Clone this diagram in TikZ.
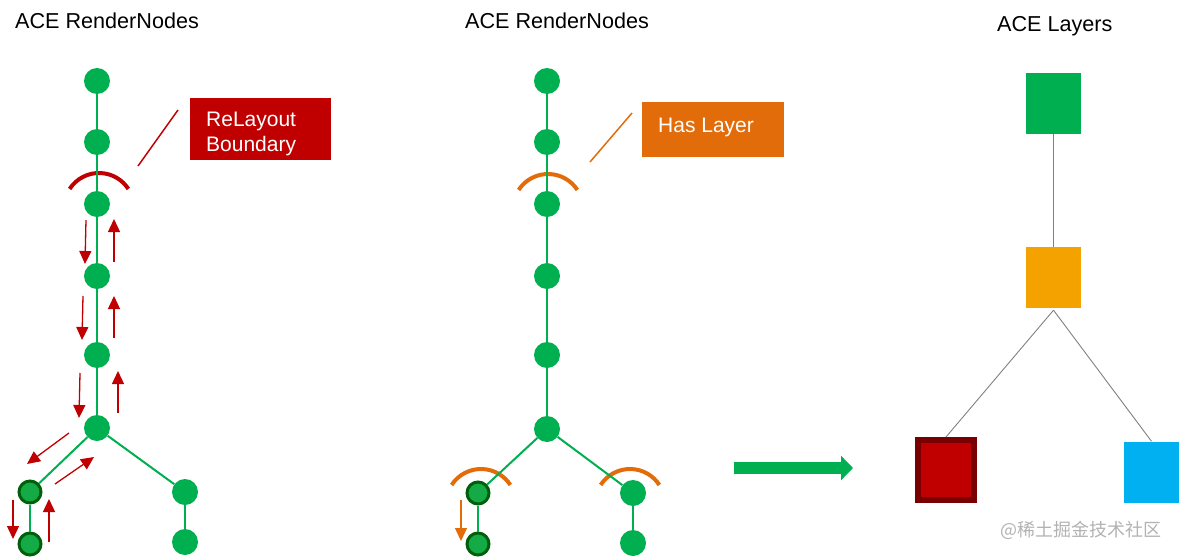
\documentclass[tikz,border=0pt]{standalone}
\usepackage{fontspec}
\setmainfont{Liberation Sans}
\newfontfamily\cjkfont{Noto Sans CJK SC}
\usetikzlibrary{arrows.meta}
\definecolor{ngreen}{RGB}{0,176,80}
\definecolor{dgreen}{RGB}{0,95,10}
\definecolor{lgreen}{RGB}{20,170,70}
\definecolor{nred}{RGB}{192,0,0}
\definecolor{dred}{RGB}{120,0,0}
\definecolor{norange}{RGB}{226,108,10}
\definecolor{lorange}{RGB}{243,162,0}
\definecolor{lblue}{RGB}{0,176,240}
\tikzset{
  rnode/.style={circle,fill=ngreen,minimum size=26pt,inner sep=0pt},
  lnode/.style={circle,fill=lgreen,draw=dgreen,line width=3pt,minimum size=22pt,inner sep=0pt},
  edge/.style={ngreen,line width=2pt},
  redarc/.style={nred,line width=4pt},
  orarc/.style={norange,line width=4pt},
  flow/.style={nred,line width=1.3pt,-{Triangle[length=13pt,width=12pt]}},
  oflow/.style={norange,line width=1.3pt,-{Triangle[length=13pt,width=12pt]}},
  title/.style={font=\fontsize{21.6}{24}\selectfont,inner sep=0pt,anchor=west},
  tag/.style={font=\fontsize{21}{25}\selectfont,text=white,align=left,anchor=north west,inner sep=0pt,text depth=0pt},
  layerbox/.style={minimum width=55pt,minimum height=61pt,inner sep=0pt},
  conn/.style={draw=gray,line width=0.9pt},
}
\begin{document}
\begin{tikzpicture}[x=1pt,y=-1pt]
\useasboundingbox (0,0) rectangle (1179,557);
% titles
\node[title] (t1) at (15,21) {ACE RenderNodes};
\node[title] (t2) at (465,21) {ACE RenderNodes};
\node[title] (t3) at (997,26) {ACE Layers};

% ---------- left tree ----------
\draw[redarc] ([shift={(213:35)}]99,208) arc (213:327:35);
\foreach \n/\y in {1/81,2/142,3/204,4/276,5/355,6/428} {\node[rnode] (a\n) at (97,\y) {};}
\node[lnode] (aL1) at (30,492) {};
\node[lnode] (aL2) at (30,544) {};
\node[rnode] (aR1) at (185,492) {};
\node[rnode] (aR2) at (185,542) {};
\draw[edge] (a1) -- (a2);
\draw[edge] (a2) -- (a3);
\draw[edge] (a3) -- (a4);
\draw[edge] (a4) -- (a5);
\draw[edge] (a5) -- (a6);
\draw[edge] (a6) -- (aL1);
\draw[edge] (a6) -- (aR1);
\draw[edge] (aL1) -- (aL2);
\draw[edge] (aR1) -- (aR2);
% tag
\node[fill=nred,minimum width=141pt,minimum height=62pt,anchor=north west,inner sep=0pt] (rb) at (190,98) {};
\node[tag] (rbt) at (206,112) {ReLayout\\Boundary};
\coordinate (rl1) at (138,166);
\coordinate (rl2) at (178,110);
\draw[nred,line width=1.5pt] (rl1) -- (rl2);
% flow arrows
\coordinate (d1s) at (86,220); \coordinate (d1e) at (85,264);
\coordinate (u1s) at (114,262); \coordinate (u1e) at (114,219);
\coordinate (d2s) at (83,296); \coordinate (d2e) at (82,340);
\coordinate (u2s) at (114,338); \coordinate (u2e) at (114,296);
\coordinate (d3s) at (80,373); \coordinate (d3e) at (79,418);
\coordinate (u3s) at (118,413); \coordinate (u3e) at (118,371);
\coordinate (d4s) at (69,433); \coordinate (d4e) at (27,464);
\coordinate (u4s) at (55,484); \coordinate (u4e) at (94,457);
\coordinate (d5s) at (13,500); \coordinate (d5e) at (13,539);
\coordinate (u5s) at (49,542); \coordinate (u5e) at (49,499);
\foreach \a in {d1,u1,d2,u2,d3,u3,d4,u4,d5,u5} {\draw[flow] (\a s) -- (\a e);}

% ---------- middle tree ----------
\draw[orarc] ([shift={(213:35)}]548,209) arc (213:327:35);
\draw[orarc] ([shift={(213:35)}]481,504) arc (213:327:35);
\draw[orarc] ([shift={(213:35)}]630,504) arc (213:327:35);
\foreach \n/\y in {1/81,2/142,3/204,4/276,5/355,6/429} {\node[rnode] (b\n) at (547,\y) {};}
\node[lnode] (bL1) at (478,493) {};
\node[lnode] (bL2) at (478,544) {};
\node[rnode] (bR1) at (633,493) {};
\node[rnode] (bR2) at (633,543) {};
\draw[edge] (b1) -- (b2);
\draw[edge] (b2) -- (b3);
\draw[edge] (b3) -- (b4);
\draw[edge] (b4) -- (b5);
\draw[edge] (b5) -- (b6);
\draw[edge] (b6) -- (bL1);
\draw[edge] (b6) -- (bR1);
\draw[edge] (bL1) -- (bL2);
\draw[edge] (bR1) -- (bR2);
\node[fill=norange,minimum width=142pt,minimum height=55pt,anchor=north west,inner sep=0pt] (ob) at (642,102) {};
\node[tag,anchor=west] (obt) at (658,125) {Has Layer};
\coordinate (ol1) at (590,162);
\coordinate (ol2) at (632,113);
\draw[norange,line width=1.5pt] (ol1) -- (ol2);
\coordinate (o1s) at (461,500); \coordinate (o1e) at (461,541);
\draw[oflow] (o1s) -- (o1e);

% ---------- fat arrow ----------
\coordinate (fa1) at (734,468);
\coordinate (fa2) at (853,468);
\draw[ngreen,line width=12pt,-{Triangle[length=12pt,width=24pt]}] (fa1) -- (fa2);

% ---------- layers ----------
\node[layerbox,fill=ngreen] (g) at (1053.5,103.5) {};
\node[layerbox,fill=lorange] (o) at (1053.5,277.5) {};
\node[minimum width=56pt,minimum height=60pt,inner sep=0pt,fill=nred,draw=dred,line width=6pt] (r) at (946,470) {};
\node[layerbox,fill=lblue] (bl) at (1151.5,472) {};
\draw[conn] (g.south) -- (o.north);
\draw[conn] ([yshift=-2pt]o.south) -- (r.north);
\draw[conn] ([yshift=-2pt]o.south) -- (bl.north);

% watermark
\node[font=\cjkfont\fontsize{18}{20}\selectfont,text=gray!60,anchor=west,inner sep=0pt] (wm) at (1000,530) {@稀土掘金技术社区};
\end{tikzpicture}
\end{document}
